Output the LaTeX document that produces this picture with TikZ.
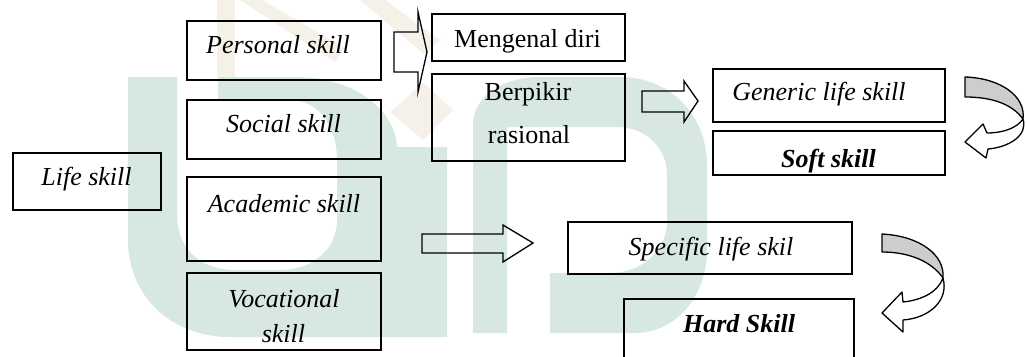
\documentclass[tikz,border=0pt]{standalone}
\usepackage{fontspec}
\setmainfont{Liberation Serif}
\definecolor{wmteal}{RGB}{215,232,224}
\definecolor{wmgold}{RGB}{246,241,232}
\definecolor{ribbon}{RGB}{205,205,205}
\begin{document}
\begin{tikzpicture}[x=1pt,y=-1pt,
  box/.style={draw, line width=1.5pt, rectangle, inner sep=0pt},
  txt/.style={font=\fontsize{26}{30}\selectfont\itshape, inner sep=0pt, anchor=base},
  rtxt/.style={font=\fontsize{26}{30}\selectfont, inner sep=0pt, anchor=base},
  btxt/.style={font=\fontsize{26}{30}\selectfont\bfseries\itshape, inner sep=0pt, anchor=base},
  blockarrow/.style={draw, line width=1.3pt, line join=miter},
  curvearrow/.style={draw, line width=1.3pt, fill=white, line join=round},
  backribbon/.style={draw, line width=1.3pt, fill=ribbon, line join=round}]
\useasboundingbox (0,0) rectangle (1027,356);
\clip (0,0) rectangle (1027,356);
\fill[white] (0,0) rectangle (1027,356);
% watermark (gold)
\fill[wmgold] (217,0) rectangle (235,77);
\fill[wmgold] (240,0) -- (262,0) -- (345,48) -- (335,62) -- cycle;
\fill[wmgold] (360,0) -- (385,0) -- (440,40) -- (425,55) -- cycle;
\fill[wmgold] (390,112) -- (423,83) -- (453,110) -- (423,140) -- cycle;
% watermark (teal) "u"
\fill[wmteal]
  (128,77) -- (128,240) .. controls (128,295) and (170,337) .. (230,337)
  -- (300,337) -- (447,337) -- (447,147) -- (397,147)
  .. controls (395,110) and (355,77) .. (295,77) -- (218,77) -- (218,100) -- (290,100)
  .. controls (318,100) and (337,125) .. (337,160) -- (337,220)
  .. controls (337,250) and (312,270) .. (280,270) -- (235,270)
  .. controls (200,270) and (177,248) .. (177,215) -- (177,77) -- cycle;
% watermark (teal) "n"
\fill[wmteal]
  (473,333) -- (473,125) .. controls (473,95) and (505,77) .. (540,77) -- (620,77)
  .. controls (670,77) and (707,115) .. (707,165) -- (707,250)
  .. controls (707,297) and (675,333) .. (635,333) -- (550,333) -- (550,273) -- (610,273)
  .. controls (642,273) and (667,250) .. (667,222) -- (667,175)
  .. controls (667,147) and (645,127) .. (617,127) -- (507,127) -- (507,333) -- cycle;
% boxes
\node[box, minimum width=194, minimum height=59] (personal) at (284,50.5) {};
\node[box, minimum width=194, minimum height=59] (social) at (284,129.5) {};
\node[box, minimum width=148, minimum height=57] (life) at (87,181.5) {};
\node[box, minimum width=194, minimum height=84] (academic) at (284,219) {};
\node[box, minimum width=194, minimum height=77] (vocational) at (284,311.5) {};
\node[box, minimum width=193, minimum height=47] (mengenal) at (528.5,37.5) {};
\node[box, minimum width=193, minimum height=87] (berpikir) at (528.5,117.5) {};
\node[box, minimum width=232, minimum height=53] (generic) at (829,95.5) {};
\node[box, minimum width=232, minimum height=44] (soft) at (829,153) {};
\node[box, minimum width=284, minimum height=52] (specific) at (710,248) {};
\node[box, minimum width=230, minimum height=64] (hard) at (739,331) {};
% texts
\node[txt] (personal-t) at (278,53) {Personal skill};
\node[txt] (social-t) at (283.5,132) {Social skill};
\node[txt] (life-t) at (86.5,185) {Life skill};
\node[txt] (academic-t) at (284,212) {Academic skill};
\node[txt] (vocational-t1) at (284,307) {Vocational};
\node[txt] (vocational-t2) at (283.5,342) {skill};
\node[rtxt] (mengenal-t) at (527.5,47) {Mengenal diri};
\node[rtxt] (berpikir-t1) at (528,100) {Berpikir};
\node[rtxt] (berpikir-t2) at (529,143) {rasional};
\node[txt] (generic-t) at (819,100) {Generic life skill};
\node[btxt] (soft-t) at (828.5,167) {Soft skill};
\node[txt] (specific-t) at (711,255) {Specific life skil};
\node[btxt] (hard-t) at (739,332) {Hard Skill};
% block arrows
\draw[blockarrow] (394,32) -- (418,32) -- (418,12) -- (427,52) -- (418,92) -- (418,72) -- (394,72) -- cycle;
\draw[blockarrow] (642,91) -- (684,91) -- (684,81) -- (698,101) -- (684,122) -- (684,112) -- (642,112) -- cycle;
\draw[blockarrow] (422,234) -- (503,234) -- (503,225) -- (533,243) -- (503,262) -- (503,253) -- (422,253) -- cycle;
% curved arrows
\draw[backribbon] (965,77) .. controls (1000,78) and (1026,96) .. (1023,119) .. controls (1012,104) and (992,97) .. (965,97) -- cycle;
\draw[curvearrow] (1023,119) .. controls (1017,128) and (1003,133) .. (987,133) -- (983,124) -- (965,142) -- (986,158) -- (988,149) .. controls (1010,147) and (1028,135) .. (1023,119) -- cycle;
\draw[backribbon] (882,234) .. controls (920,236) and (945,255) .. (943,278) .. controls (932,262) and (910,252) .. (882,252) -- cycle;
\draw[curvearrow] (943,278) .. controls (938,292) and (922,300) .. (903,302) -- (902,292) -- (882,313) -- (903,332) -- (903,320) .. controls (930,318) and (949,300) .. (943,278) -- cycle;
\end{tikzpicture}
\end{document}
